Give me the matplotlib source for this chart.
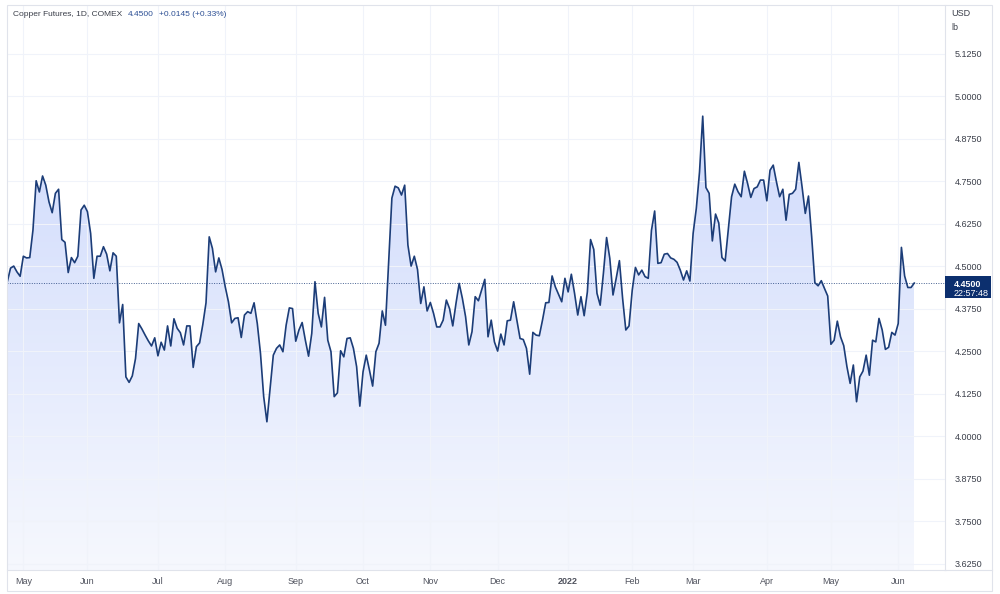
import matplotlib.pyplot as plt
import matplotlib.transforms as mtransforms
from matplotlib.colors import LinearSegmentedColormap
from matplotlib.patches import Rectangle, PathPatch
import numpy as np
import pandas as pd

plt.rcParams['font.family'] = ['Liberation Sans', 'DejaVu Sans']

# daily closes, COMEX copper
start_date = '2021-04-26'
exchange_holidays = ['2021-05-31', '2021-07-05', '2021-09-06', '2021-11-25', '2021-12-24',
                     '2022-01-17', '2022-02-21', '2022-04-15', '2022-05-30']
close = [
    4.454, 4.494, 4.500, 4.483, 4.470, 4.529, 4.524, 4.525, 4.606, 4.751,
    4.718, 4.765, 4.738, 4.689, 4.657, 4.714, 4.726, 4.578, 4.570, 4.481,
    4.525, 4.510, 4.529, 4.665, 4.679, 4.660, 4.596, 4.464, 4.529, 4.529,
    4.557, 4.535, 4.486, 4.539, 4.529, 4.333, 4.387, 4.174, 4.158, 4.177,
    4.228, 4.331, 4.315, 4.297, 4.280, 4.265, 4.289, 4.236, 4.276, 4.253,
    4.324, 4.265, 4.345, 4.317, 4.304, 4.268, 4.324, 4.324, 4.202, 4.263,
    4.274, 4.328, 4.392, 4.586, 4.552, 4.483, 4.524, 4.490, 4.439, 4.395,
    4.333, 4.346, 4.348, 4.290, 4.356, 4.366, 4.361,
    4.392, 4.331, 4.243, 4.116, 4.042, 4.140, 4.238, 4.258, 4.268, 4.248,
    4.326, 4.377, 4.375, 4.279, 4.312, 4.334, 4.282, 4.235, 4.302, 4.454,
    4.361, 4.321, 4.408, 4.282, 4.248, 4.116, 4.127, 4.251, 4.233, 4.287,
    4.289, 4.258, 4.204, 4.088, 4.189, 4.238, 4.194, 4.147, 4.248, 4.273,
    4.368, 4.326, 4.513, 4.700, 4.735, 4.730, 4.709, 4.738,
    4.562, 4.500, 4.529, 4.490, 4.390, 4.439, 4.368, 4.393, 4.361, 4.321,
    4.321, 4.341, 4.400, 4.375, 4.324, 4.390, 4.449, 4.405, 4.351, 4.268,
    4.307, 4.410, 4.398, 4.429, 4.461, 4.292, 4.341, 4.277, 4.250, 4.300,
    4.268, 4.339, 4.341, 4.395, 4.341, 4.287, 4.284, 4.258, 4.182, 4.305,
    4.297, 4.295, 4.341, 4.392, 4.393, 4.471, 4.439, 4.417, 4.395, 4.464,
    4.424, 4.476, 4.420, 4.356, 4.410, 4.354, 4.424, 4.578, 4.549, 4.420,
    4.385, 4.478, 4.584, 4.523, 4.415, 4.464, 4.516, 4.405, 4.312, 4.324,
    4.429, 4.496, 4.474, 4.488, 4.469, 4.464,
    4.605, 4.662, 4.508, 4.510, 4.535, 4.537, 4.524, 4.520, 4.511, 4.488,
    4.459, 4.486, 4.456, 4.596, 4.670, 4.777, 4.941, 4.731, 4.714, 4.574,
    4.653, 4.627, 4.525, 4.515, 4.611, 4.704, 4.741, 4.719, 4.704, 4.779,
    4.743, 4.702, 4.728, 4.733, 4.753, 4.753, 4.692, 4.782, 4.797, 4.748,
    4.704, 4.726, 4.635, 4.711, 4.714, 4.726, 4.805,
    4.733, 4.655, 4.706, 4.586, 4.451, 4.442, 4.457, 4.434, 4.412, 4.270,
    4.282, 4.338, 4.292, 4.266, 4.204, 4.155, 4.209, 4.101, 4.174, 4.191,
    4.238, 4.179, 4.282, 4.277, 4.346, 4.312, 4.255, 4.261, 4.305, 4.297,
    4.331, 4.555, 4.471, 4.437, 4.437, 4.450,
]
price_ticks = [3.625, 3.75, 3.875, 4.0, 4.125, 4.25, 4.375, 4.5, 4.625, 4.75, 4.875, 5.0, 5.125]
last_price = 4.45
title = 'Copper Futures, 1D, COMEX'
quote = '4.4500'
change = '+0.0145 (+0.33%)'
countdown = '22:57:48'
currency = 'USD'
unit = 'lb'

dates = pd.bdate_range(start_date, periods=len(close), freq='C', holidays=exchange_holidays)
x = np.arange(len(close))
month_starts = [i for i in range(1, len(dates)) if dates[i].month != dates[i - 1].month]
month_labels = ['2022' if dates[i].month == 1 else dates[i].strftime('%b') for i in month_starts]

navy = '#1c3d78'
grid_c = '#f0f3fa'
border_c = '#e0e3eb'
text_c = '#3b3f4a'

fig = plt.figure(figsize=(10, 5.94), dpi=100)
ax = fig.add_axes([7 / 1000, 24 / 594, 938 / 1000, 565 / 594])
ylo, yhi = 3.606, 5.268
xlo, xhi = -0.1, 292.6

# gradient area under the line
fade = LinearSegmentedColormap.from_list('fade', ['#f6f8fe', '#d0dbfc'])
grad = np.linspace(0, 1, 256).reshape(-1, 1)
im = ax.imshow(grad, extent=[x[0], x[-1], ylo, max(close)], origin='lower',
               aspect='auto', cmap=fade, zorder=1)
verts = np.vstack([[x[0], ylo], np.column_stack([x, close]), [x[-1], ylo]])
clip = PathPatch(plt.Polygon(verts).get_path(), transform=ax.transData,
                 facecolor='none', edgecolor='none')
ax.add_patch(clip)
im.set_clip_path(clip)

ax.plot(x, close, color=navy, lw=1.2, zorder=3, solid_joinstyle='round')
ax.axhline(last_price, color=navy, lw=0.7, ls=(0, (1, 1.5)), alpha=0.8, zorder=2, clip_on=False)

ax.set_xlim(xlo, xhi)
ax.set_ylim(ylo, yhi)

ax.set_xticks(month_starts)
ax.set_xticklabels(month_labels)
for lab in ax.get_xticklabels():
    if lab.get_text() == '2022':
        lab.set_fontweight('bold')
        lab.set_color('#131722')
ax.set_yticks(price_ticks)
ax.set_yticklabels([f'{v:.4f}' for v in price_ticks])
ax.yaxis.tick_right()
ax.tick_params(axis='x', length=0, pad=5, labelsize=6.5, colors='#50535e')
ax.tick_params(axis='y', length=0, pad=7, labelsize=6.5, colors=text_c)
ax.grid(True, color=grid_c, lw=0.8, zorder=0)
for side in ['top', 'left']:
    ax.spines[side].set_visible(False)
ax.spines['right'].set_color(border_c)
ax.spines['bottom'].set_color(border_c)

# outer frame and the bottom line under the price scale
fig.patches.append(Rectangle((7 / 1000, 3 / 594), 985 / 1000, 586 / 594, transform=fig.transFigure,
                             fill=False, edgecolor=border_c, lw=0.8))
fig.lines.append(plt.Line2D([945 / 1000, 992 / 1000], [24 / 594, 24 / 594],
                            transform=fig.transFigure, color=border_c, lw=0.8))

# header texts, each placed just after the previous one
head = fig.text(13 / 1000, 1 - 14 / 594, title, fontsize=6, color=text_c, va='center')
q = ax.annotate(quote, xy=(1, 0.5), xycoords=head, xytext=(4, 0), textcoords='offset points',
                fontsize=6, color='#2c4f94', va='center')
ax.annotate(change, xy=(1, 0.5), xycoords=q, xytext=(4, 0), textcoords='offset points',
            fontsize=6, color='#2c4f94', va='center')
fig.text(951 / 1000, 1 - 14 / 594, currency, fontsize=6.5, color=text_c, va='center')
fig.text(951 / 1000, 1 - 28 / 594, unit, fontsize=6.5, color=text_c, va='center')

# last price tag
tag = mtransforms.blended_transform_factory(fig.transFigure, ax.transData)
px = (yhi - ylo) / 565
ax.add_patch(Rectangle((945 / 1000, last_price - 15 * px), 46 / 1000, 22 * px, transform=tag,
                       facecolor='#0c2f6e', edgecolor='none', clip_on=False, zorder=5))
ax.text(954 / 1000, last_price - 1 * px, quote, transform=tag, fontsize=6.5, color='white',
        fontweight='bold', va='center', zorder=6)
ax.text(954 / 1000, last_price - 10 * px, countdown, transform=tag, fontsize=6.5, color='white',
        va='center', zorder=6)

fig.savefig('out.png', dpi=100, facecolor='white')
